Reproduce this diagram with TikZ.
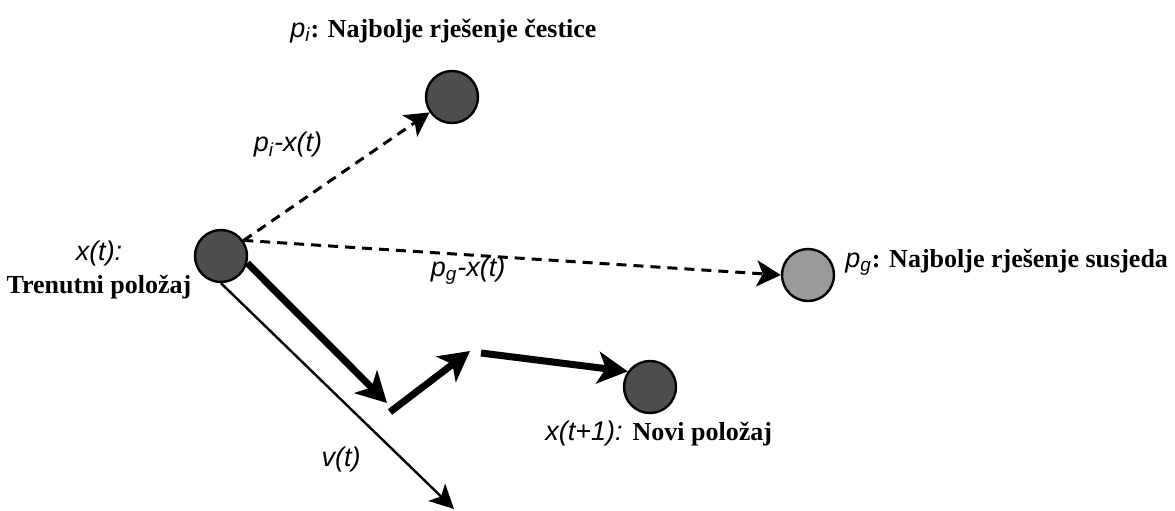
\documentclass[tikz,border=0pt]{standalone}
\usepackage{fontspec}
\setmainfont{Liberation Serif}
\setsansfont{Liberation Sans}
\usetikzlibrary{arrows.meta}
\definecolor{dark}{HTML}{4D4D4D}
\definecolor{light}{HTML}{9A9A9A}
\tikzset{
  dot/.style={circle, draw=black, line width=1.2pt, minimum size=26pt, inner sep=0pt},
  pdot/.style={dot, fill=dark},
  gdot/.style={dot, fill=light},
  lab/.style={inner sep=0pt, font=\fontsize{13.5}{16.5}\selectfont\sffamily\itshape},
  labb/.style={inner sep=0pt, font=\fontsize{13}{16.5}\selectfont\bfseries},
  dsh/.style={draw=black, line width=1.5pt, dash pattern=on 5pt off 3.5pt, -{Stealth[length=12pt,width=13pt,inset=3pt]}},
  thk/.style={draw=black, line width=3.5pt, -{Stealth[length=15pt,width=16pt,inset=4pt]}},
  thn/.style={draw=black, line width=1.2pt, -{Stealth[length=12pt,width=12pt,inset=3pt]}},
}
\begin{document}
\begin{tikzpicture}[x=0.5pt, y=-0.5pt]
  \useasboundingbox (0,0) rectangle (1175,510);
  % particles
  \node[pdot] (xt) at (221,256) {};
  \node[pdot] (pi) at (452,97) {};
  \node[gdot] (pg) at (808,275) {};
  \node[pdot] (xn) at (650,387) {};

  % breaks in the velocity sum
  \coordinate (v1) at (387,403);
  \coordinate (v2) at (390,412);
  \coordinate (v3) at (470,351);
  \coordinate (v4) at (481,353);
  \coordinate (vt) at (454,509);

  \draw[dsh] (xt) -- (pi);
  \draw[dsh] (xt.35) -- (pg.west);
  \draw[thk] (xt.-15) -- (v1);
  \draw[thn] (xt.south) -- (vt);
  \draw[thk] (v2) -- (v3);
  \draw[thk] (v4) -- (xn.145);

  \node[labb, anchor=west] (tpi) at (290,31) {{\sffamily\itshape\mdseries\fontsize{13.5}{16.5}\selectfont p\textsubscript{i}}: Najbolje rješenje čestice};
  \node[lab] (lpi) at (288,145) {p\textsubscript{i}-x(t)};
  \node[lab] (lpg) at (468,271) {p\textsubscript{g}-x(t)};
  \node[labb, anchor=west] (tpg) at (845,262) {{\sffamily\itshape\mdseries\fontsize{13.5}{16.5}\selectfont p\textsubscript{g}}: Najbolje rješenje susjeda};
  \node[lab, align=center] (txt) at (99,270) {x(t):\\{\rmfamily\bfseries\upshape\fontsize{13}{16.5}\selectfont Trenutni položaj}};
  \node[lab, anchor=west] (txn) at (545,434) {x(t+1): {\rmfamily\bfseries\upshape\fontsize{13}{16.5}\selectfont Novi položaj}};
  \node[lab] (lvt) at (341,460) {v(t)};
\end{tikzpicture}
\end{document}
